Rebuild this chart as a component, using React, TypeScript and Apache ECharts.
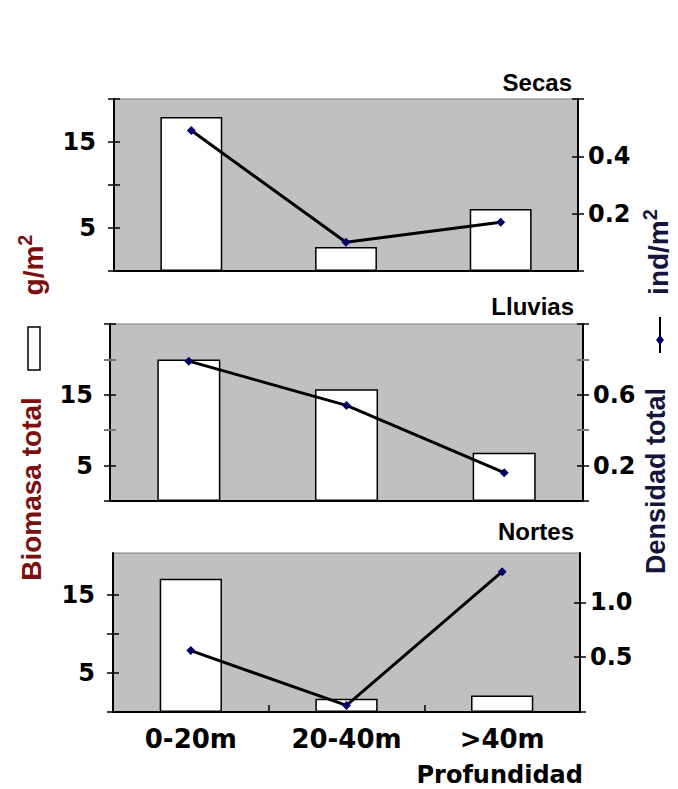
import React, { useEffect, useRef } from "react";
import * as echarts from "echarts";

const categories = ["0-20m", "20-40m", ">40m"];
const panelTitles = ["Secas", "Lluvias", "Nortes"];
const biomasaSecas = [17.9, 2.8, 7.2];
const densidadSecas = [0.49, 0.1, 0.17];
const biomasaLluvias = [20.0, 15.8, 6.8];
const densidadLluvias = [0.79, 0.54, 0.16];
const biomasaNortes = [17.0, 1.7, 2.1];
const densidadNortes = [0.56, 0.06, 1.28];

const leftLabelValues = [5, 15];
const rightLabelSecas = [0.2, 0.4];
const rightLabelLluvias = [0.2, 0.6];
const rightLabelNortes = [0.5, 1.0];

const NUM_FONT = "DejaVu Sans";
const TXT_FONT = "Liberation Sans";

export default function App() {
  const ref = useRef<HTMLDivElement>(null);
  useEffect(() => {
    if (!ref.current) return;
    const chart = echarts.init(ref.current, undefined, { renderer: "svg" });

    const grids = [
      { left: 114, top: 99, width: 464, height: 172 },
      { left: 110, top: 324, width: 473, height: 177 },
      { left: 113, top: 553, width: 467, height: 159 },
    ].map((g) => ({
      ...g,
      show: true,
      backgroundColor: "#c0c0c0",
      borderColor: "#7a7a7a",
      borderWidth: 1,
      containLabel: false,
    }));

    const yAxes: any[] = [];
    const mainIdx: number[][] = [];
    function addSide(
      grid: number,
      pos: "left" | "right",
      min: number,
      max: number,
      blackTicks: number[],
      grayTicks: number[],
      labels: number[],
      fmt: (v: number) => string,
      margin: number
    ) {
      const base = { type: "value", gridIndex: grid, position: pos, min, max, splitLine: { show: false } };
      const idx = yAxes.length;
      yAxes.push({
        ...base,
        axisLine: { show: true, lineStyle: { color: "#000", width: 2 } },
        axisTick: { show: true, inside: false, length: 6, customValues: blackTicks, lineStyle: { color: "#000", width: 1.5 } },
        axisLabel: {
          show: true,
          customValues: labels,
          formatter: fmt,
          margin,
          fontSize: 24,
          fontWeight: "bold",
          fontFamily: NUM_FONT,
          color: "#000",
        },
      });
      yAxes.push({
        ...base,
        axisLine: { show: false },
        axisTick: { show: true, inside: true, length: 6, customValues: blackTicks, lineStyle: { color: "#000", width: 1.5 } },
        axisLabel: { show: false },
      });
      if (grayTicks.length) {
        yAxes.push({
          ...base,
          axisLine: { show: false },
          axisTick: { show: true, inside: false, length: 6, customValues: grayTicks, lineStyle: { color: "#777", width: 2 } },
          axisLabel: { show: false },
        });
        yAxes.push({
          ...base,
          axisLine: { show: false },
          axisTick: { show: true, inside: true, length: 6, customValues: grayTicks, lineStyle: { color: "#777", width: 2 } },
          axisLabel: { show: false },
        });
      }
      return idx;
    }
    const intFmt = (v: number) => String(Math.round(v));
    const decFmt = (v: number) => v.toFixed(1);

    mainIdx.push([
      addSide(0, "left", 0, 20, [0, 5, 10, 15, 20], [], leftLabelValues, intFmt, 18),
      addSide(0, "right", 0, 0.6, [0, 0.2, 0.4, 0.6], [], rightLabelSecas, decFmt, 10),
    ]);
    mainIdx.push([
      addSide(1, "left", 0, 25, [0, 5, 15, 25], [10, 20], leftLabelValues, intFmt, 17),
      addSide(1, "right", 0, 1.0, [0, 0.2, 0.6, 1.0], [0.4, 0.8], rightLabelLluvias, decFmt, 10),
    ]);
    mainIdx.push([
      addSide(2, "left", 0, 20.3, [0, 5, 10, 15], [], leftLabelValues, intFmt, 18),
      addSide(2, "right", 0, 1.45, [0, 0.5, 1.0], [], rightLabelNortes, decFmt, 10),
    ]);

    const xAxes = [0, 1, 2].map((i) => ({
      type: "category",
      gridIndex: i,
      data: categories,
      axisLine: { show: true, lineStyle: { color: "#000", width: 2 } },
      axisTick: i === 2
        ? { show: true, inside: true, length: 7, alignWithLabel: false, lineStyle: { color: "#000", width: 1.5 } }
        : { show: false },
      axisLabel: i === 2
        ? { show: true, fontSize: 26, fontWeight: "bold", fontFamily: NUM_FONT, color: "#000", margin: 14 }
        : { show: false },
      splitLine: { show: false },
    }));

    const bioms = [biomasaSecas, biomasaLluvias, biomasaNortes];
    const dens = [densidadSecas, densidadLluvias, densidadNortes];
    const series: any[] = [];
    for (let i = 0; i < 3; i++) {
      series.push({
        type: "bar",
        name: "Biomasa total",
        xAxisIndex: i,
        yAxisIndex: mainIdx[i][0],
        data: bioms[i],
        barWidth: "40%",
        itemStyle: { color: "#fff", borderColor: "#000", borderWidth: 1.5 },
        z: 2,
      });
    }
    for (let i = 0; i < 3; i++) {
      series.push({
        type: "line",
        name: "Densidad total",
        xAxisIndex: i,
        yAxisIndex: mainIdx[i][1],
        data: dens[i],
        symbol: "diamond",
        symbolSize: 9,
        lineStyle: { color: "#000", width: 3 },
        itemStyle: { color: "#000066" },
        z: 5,
      });
    }

    const titleY = [82, 306, 531];
    const titleRight = [572, 574, 574];
    const graphic: any[] = panelTitles.map((t, i) => ({
      type: "text",
      x: titleRight[i],
      y: titleY[i],
      style: {
        text: t,
        align: "right",
        verticalAlign: "middle",
        fontSize: 24,
        fontWeight: "bold",
        fontFamily: TXT_FONT,
        fill: "#000",
      },
    }));
    graphic.push({
      type: "text",
      x: 583,
      y: 775,
      style: {
        text: "Profundidad",
        align: "right",
        verticalAlign: "middle",
        fontSize: 24,
        fontWeight: "bold",
        fontFamily: NUM_FONT,
        fill: "#000",
      },
    });
    const leftColor = "#7a1010";
    const rightColor = "#14143c";
    graphic.push({
      type: "text",
      x: 31,
      y: 489,
      rotation: Math.PI / 2,
      style: { text: "Biomasa total", align: "center", verticalAlign: "middle", fontSize: 28, fontWeight: "bold", fontFamily: TXT_FONT, fill: leftColor },
    });
    graphic.push({
      type: "text",
      x: 31,
      y: 265,
      rotation: Math.PI / 2,
      style: {
        text: "{a|g/m}{b|2}",
        align: "center",
        verticalAlign: "middle",
        fill: leftColor,
        rich: {
          a: { fontSize: 28, fontWeight: "bold", fontFamily: TXT_FONT, fill: leftColor, verticalAlign: "bottom", lineHeight: 32 },
          b: { fontSize: 20, fontWeight: "bold", fontFamily: TXT_FONT, fill: leftColor, verticalAlign: "top", lineHeight: 32 },
        },
      },
    });
    graphic.push({
      type: "rect",
      shape: { x: 28, y: 327, width: 12, height: 43 },
      style: { fill: "#fff", stroke: "#000", lineWidth: 1.5 },
    });
    graphic.push({
      type: "text",
      x: 656,
      y: 481,
      rotation: Math.PI / 2,
      style: { text: "Densidad total", align: "center", verticalAlign: "middle", fontSize: 27, fontWeight: "bold", fontFamily: TXT_FONT, fill: rightColor },
    });
    graphic.push({
      type: "text",
      x: 656,
      y: 252,
      rotation: Math.PI / 2,
      style: {
        text: "{a|ind/m}{b|2}",
        align: "center",
        verticalAlign: "middle",
        fill: rightColor,
        rich: {
          a: { fontSize: 28, fontWeight: "bold", fontFamily: TXT_FONT, fill: rightColor, verticalAlign: "bottom", lineHeight: 32 },
          b: { fontSize: 20, fontWeight: "bold", fontFamily: TXT_FONT, fill: rightColor, verticalAlign: "top", lineHeight: 32 },
        },
      },
    });
    graphic.push({
      type: "line",
      shape: { x1: 660, y1: 317, x2: 660, y2: 353 },
      style: { stroke: "#000", lineWidth: 2 },
    });
    graphic.push({
      type: "polygon",
      shape: { points: [[660, 335], [664, 340], [660, 345], [656, 340]] },
      style: { fill: "#000066" },
    });

    chart.setOption({
      animation: false,
      backgroundColor: "#fff",
      grid: grids,
      xAxis: xAxes,
      yAxis: yAxes,
      series,
      graphic,
    });
    return () => chart.dispose();
  }, []);
  return <div ref={ref} style={{ position: "absolute", left: 0, top: 0, width: 678, height: 789 }} />;
}
